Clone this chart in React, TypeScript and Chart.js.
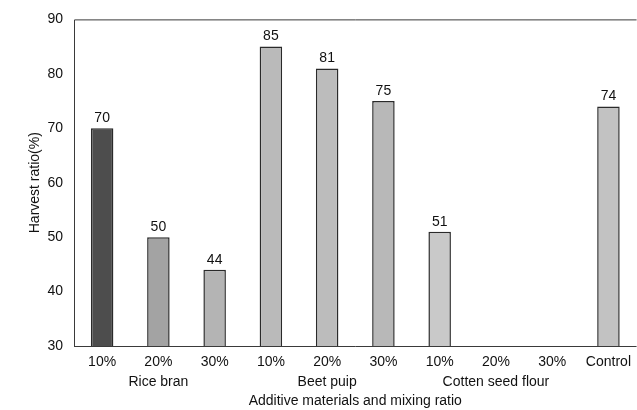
import React, { useEffect, useRef } from 'react';
import { Chart, registerables } from 'chart.js';

Chart.register(...registerables);

const categories = ['10%', '20%', '30%', '10%', '20%', '30%', '10%', '20%', '30%', 'Control'];
const groupNames = ['', 'Rice bran', '', '', 'Beet puip', '', '', 'Cotten seed flour', '', ''];
const harvestRatio: (number | null)[] = [70, 50, 44, 85, 81, 75, 51, null, null, 74];
const barColors = ['#4d4d4d', '#a3a3a3', '#b4b4b4', '#bababa', '#bcbcbc', '#b8b8b8', '#c9c9c9', '#c9c9c9', '#c9c9c9', '#c2c2c2'];
const yMin = 30;
const yMax = 90;
const yStep = 10;
const yTitle = 'Harvest ratio(%)';
const xTitle = 'Additive materials and mixing ratio';

const FONT = '"Liberation Sans", Arial, sans-serif';

export default function App() {
  const ref = useRef<HTMLCanvasElement>(null);

  useEffect(() => {
    if (!ref.current) return;

    const framePlugin = {
      id: 'frame',
      afterDatasetsDraw(chart: any) {
        const { ctx, chartArea: a } = chart;
        ctx.save();
        ctx.strokeStyle = '#3a3a3a';
        ctx.lineWidth = 1;
        ctx.beginPath();
        ctx.moveTo(a.left + 0.5, a.bottom);
        ctx.lineTo(a.left + 0.5, a.top + 0.5);
        ctx.lineTo(a.right, a.top + 0.5);
        ctx.moveTo(a.left, a.bottom + 0.5);
        ctx.lineTo(a.right, a.bottom + 0.5);
        ctx.stroke();
        ctx.restore();
      },
    };

    const valueLabelPlugin = {
      id: 'valueLabels',
      afterDatasetsDraw(chart: any) {
        const { ctx } = chart;
        const meta = chart.getDatasetMeta(0);
        ctx.save();
        ctx.font = `14px ${FONT}`;
        ctx.fillStyle = '#111';
        ctx.textAlign = 'center';
        ctx.textBaseline = 'bottom';
        meta.data.forEach((bar: any, i: number) => {
          const v = harvestRatio[i];
          if (v === null || v === undefined) return;
          ctx.fillText(String(v), bar.x, bar.y - 3);
        });
        ctx.restore();
      },
    };

    const labels = categories.map((c, i) => (groupNames[i] ? [c, groupNames[i]] : c));

    const chart = new Chart(ref.current, {
      type: 'bar',
      data: {
        labels,
        datasets: [
          {
            data: harvestRatio as any,
            backgroundColor: barColors,
            borderColor: '#2a2a2a',
            borderWidth: 1.5,
            barPercentage: 0.4,
            categoryPercentage: 1,
          },
        ],
      },
      options: {
        responsive: false,
        animation: false,
        devicePixelRatio: 1,
        layout: { padding: { top: 19, right: 0, bottom: 0, left: 0 } },
        plugins: {
          legend: { display: false },
          tooltip: { enabled: false },
        },
        scales: {
          x: {
            type: 'category',
            offset: true,
            grid: { display: false, drawTicks: false },
            border: { display: false },
            ticks: {
              color: '#111',
              padding: 6,
              maxRotation: 0,
              autoSkip: false,
              font: { family: FONT, size: 14, lineHeight: 20 / 14 },
            },
            title: {
              display: true,
              text: xTitle,
              color: '#111',
              font: { family: FONT, size: 14 },
              padding: { top: 0, bottom: 0 },
            },
            afterFit(scale: any) {
              scale.height = 64;
            },
          },
          y: {
            min: yMin,
            max: yMax,
            grid: { display: false, drawTicks: false },
            border: { display: false },
            ticks: {
              stepSize: yStep,
              color: '#111',
              padding: 11,
              font: { family: FONT, size: 14 },
            },
            title: {
              display: true,
              text: yTitle,
              color: '#111',
              font: { family: FONT, size: 14 },
              padding: { top: 27, bottom: 0 },
            },
            afterFit(scale: any) {
              scale.width = 74;
            },
          },
        },
      },
      plugins: [framePlugin, valueLabelPlugin],
    });

    return () => chart.destroy();
  }, []);

  return (
    <div style={{ position: 'fixed', left: 0, top: 0, width: 637, height: 410, background: '#fff' }}>
      <canvas ref={ref} width={637} height={410} />
    </div>
  );
}
